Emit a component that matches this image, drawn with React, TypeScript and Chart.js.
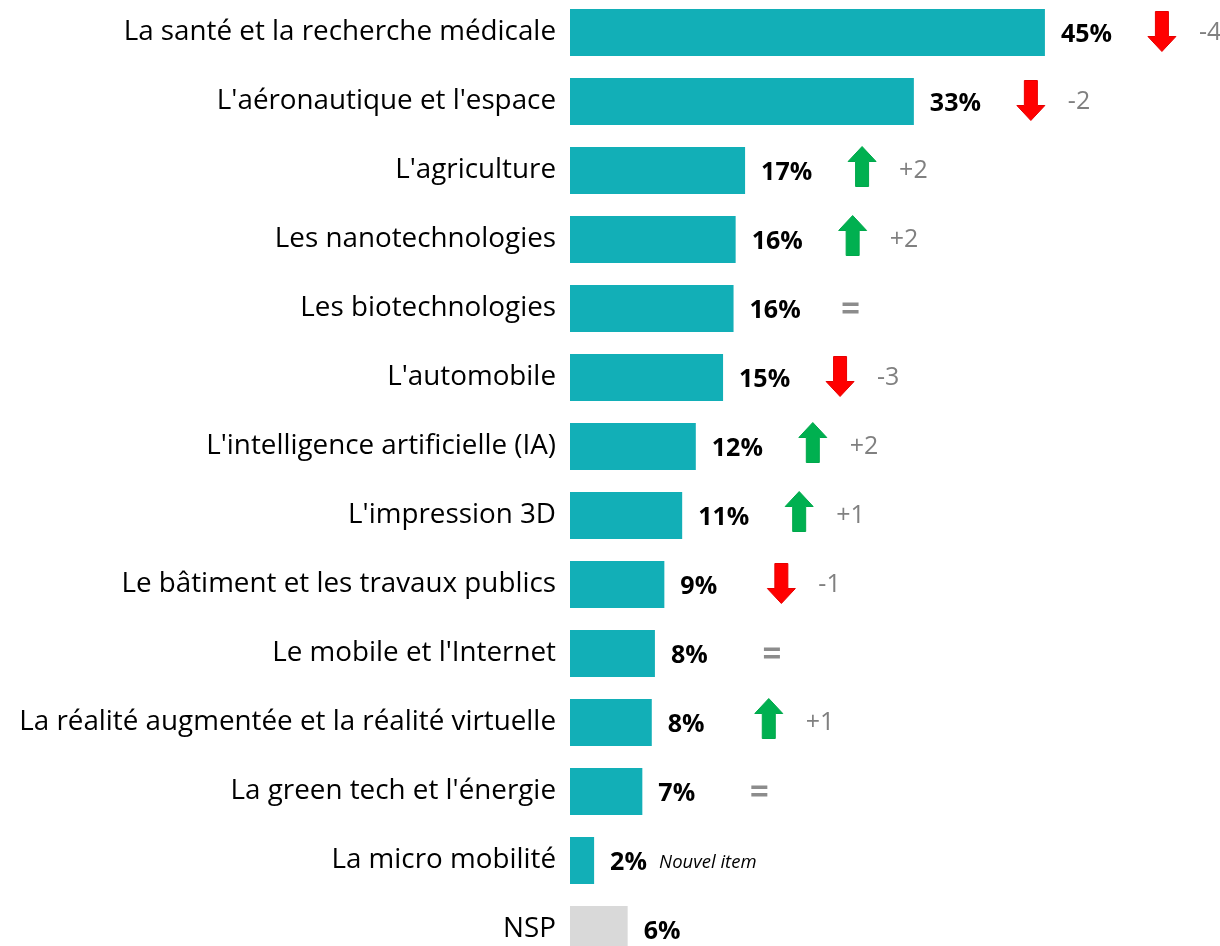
import React, { useEffect, useRef } from "react";
import { Chart, registerables } from "chart.js";

Chart.register(...registerables);

const categories = [
  "La santé et la recherche médicale",
  "L'aéronautique et l'espace",
  "L'agriculture",
  "Les nanotechnologies",
  "Les biotechnologies",
  "L'automobile",
  "L'intelligence artificielle (IA)",
  "L'impression 3D",
  "Le bâtiment et les travaux publics",
  "Le mobile et l'Internet",
  "La réalité augmentée et la réalité virtuelle",
  "La green tech et l'énergie",
  "La micro mobilité",
  "NSP",
];

const values = [45.3, 32.8, 16.7, 15.8, 15.6, 14.6, 12.0, 10.7, 9.0, 8.1, 7.8, 6.9, 2.3, 5.5];
const shownPercent = [45, 33, 17, 16, 16, 15, 12, 11, 9, 8, 8, 7, 2, 6];
// evolution vs previous wave; null = no comparison
const evolution: (number | null)[] = [-4, -2, 2, 2, 0, -3, 2, 1, -1, 0, 1, 0, null, null];
const notes: (string | null)[] = [null, null, null, null, null, null, null, null, null, null, null, null, "Nouvel item", null];

const FONT = "'Open Sans', 'Noto Sans', sans-serif";
const TEAL = "#12AFB7";
const GREY_BAR = "#D9D9D9";

function drawArrow(ctx: CanvasRenderingContext2D, cx: number, cy: number, up: boolean) {
  const h = 40, headW = 28, headH = 15, shaftW = 13;
  ctx.save();
  ctx.fillStyle = up ? "#00B050" : "#FF0000";
  ctx.strokeStyle = up ? "#00A84C" : "#E60000";
  ctx.lineWidth = 1;
  ctx.beginPath();
  const top = cy - h / 2, bot = cy + h / 2;
  if (up) {
    ctx.moveTo(cx, top);
    ctx.lineTo(cx + headW / 2, top + headH);
    ctx.lineTo(cx + shaftW / 2, top + headH);
    ctx.lineTo(cx + shaftW / 2, bot);
    ctx.lineTo(cx - shaftW / 2, bot);
    ctx.lineTo(cx - shaftW / 2, top + headH);
    ctx.lineTo(cx - headW / 2, top + headH);
  } else {
    ctx.moveTo(cx, bot);
    ctx.lineTo(cx + headW / 2, bot - headH);
    ctx.lineTo(cx + shaftW / 2, bot - headH);
    ctx.lineTo(cx + shaftW / 2, top);
    ctx.lineTo(cx - shaftW / 2, top);
    ctx.lineTo(cx - shaftW / 2, bot - headH);
    ctx.lineTo(cx - headW / 2, bot - headH);
  }
  ctx.closePath();
  ctx.fill();
  ctx.stroke();
  ctx.restore();
}

const annotations = {
  id: "annotations",
  afterDatasetsDraw(chart: any) {
    const ctx: CanvasRenderingContext2D = chart.ctx;
    const meta = chart.getDatasetMeta(0);
    meta.data.forEach((bar: any, i: number) => {
      const xEnd = bar.x;
      const y = bar.y;
      ctx.save();
      ctx.textBaseline = "middle";
      ctx.textAlign = "left";
      ctx.fillStyle = "#000";
      ctx.font = `bold 25px ${FONT}`;
      const labelX = xEnd + 16;
      ctx.fillText(`${shownPercent[i]}%`, labelX, y + 2);

      const ev = evolution[i];
      const ax = xEnd + 117;
      if (ev !== null) {
        if (ev === 0) {
          ctx.fillStyle = "#8C8C8C";
          ctx.fillRect(ax - 8, y - 6, 16, 3.5);
          ctx.fillRect(ax - 8, y + 1.5, 16, 3.5);
        } else {
          drawArrow(ctx, ax, ev > 0 ? y - 4 : y - 1, ev > 0);
          ctx.fillStyle = "#808080";
          ctx.font = `25px ${FONT}`;
          ctx.fillText(ev > 0 ? `+${ev}` : `${ev}`, ax + 37, y);
        }
      }
      const note = notes[i];
      if (note) {
        ctx.fillStyle = "#000";
        ctx.font = `italic 18.5px ${FONT}`;
        ctx.fillText(note, labelX + 49, y + 2);
      }
      ctx.restore();
    });
  },
};

export default function App() {
  const ref = useRef<HTMLCanvasElement | null>(null);
  useEffect(() => {
    if (!ref.current) return;
    const chart = new Chart(ref.current, {
      type: "bar",
      data: {
        labels: categories,
        datasets: [
          {
            data: values,
            backgroundColor: categories.map((c) => (c === "NSP" ? GREY_BAR : TEAL)),
            borderWidth: 0,
            barPercentage: 0.68,
            categoryPercentage: 1,
          },
        ],
      },
      options: {
        responsive: false,
        animation: false,
        indexAxis: "y",
        layout: { padding: 0 },
        plugins: { legend: { display: false }, tooltip: { enabled: false } },
        scales: {
          x: { display: false, min: 0, max: 62 },
          y: {
            grid: { display: false, drawTicks: false },
            border: { display: false },
            ticks: { padding: 14, color: "#000", font: { family: FONT, size: 27.8 } },
            afterFit(scale: any) {
              scale.width = 570;
              scale.paddingTop = 0;
              scale.paddingBottom = 0;
            },
          },
        },
      },
      plugins: [annotations],
    } as any);
    return () => chart.destroy();
  }, []);
  return (
    <div style={{ position: "fixed", left: 0, top: 0, width: 1220, height: 946, overflow: "hidden", background: "#fff" }}>
      <canvas ref={ref} width={1220} height={966} style={{ position: "absolute", left: 0, top: -2 }} />
    </div>
  );
}
